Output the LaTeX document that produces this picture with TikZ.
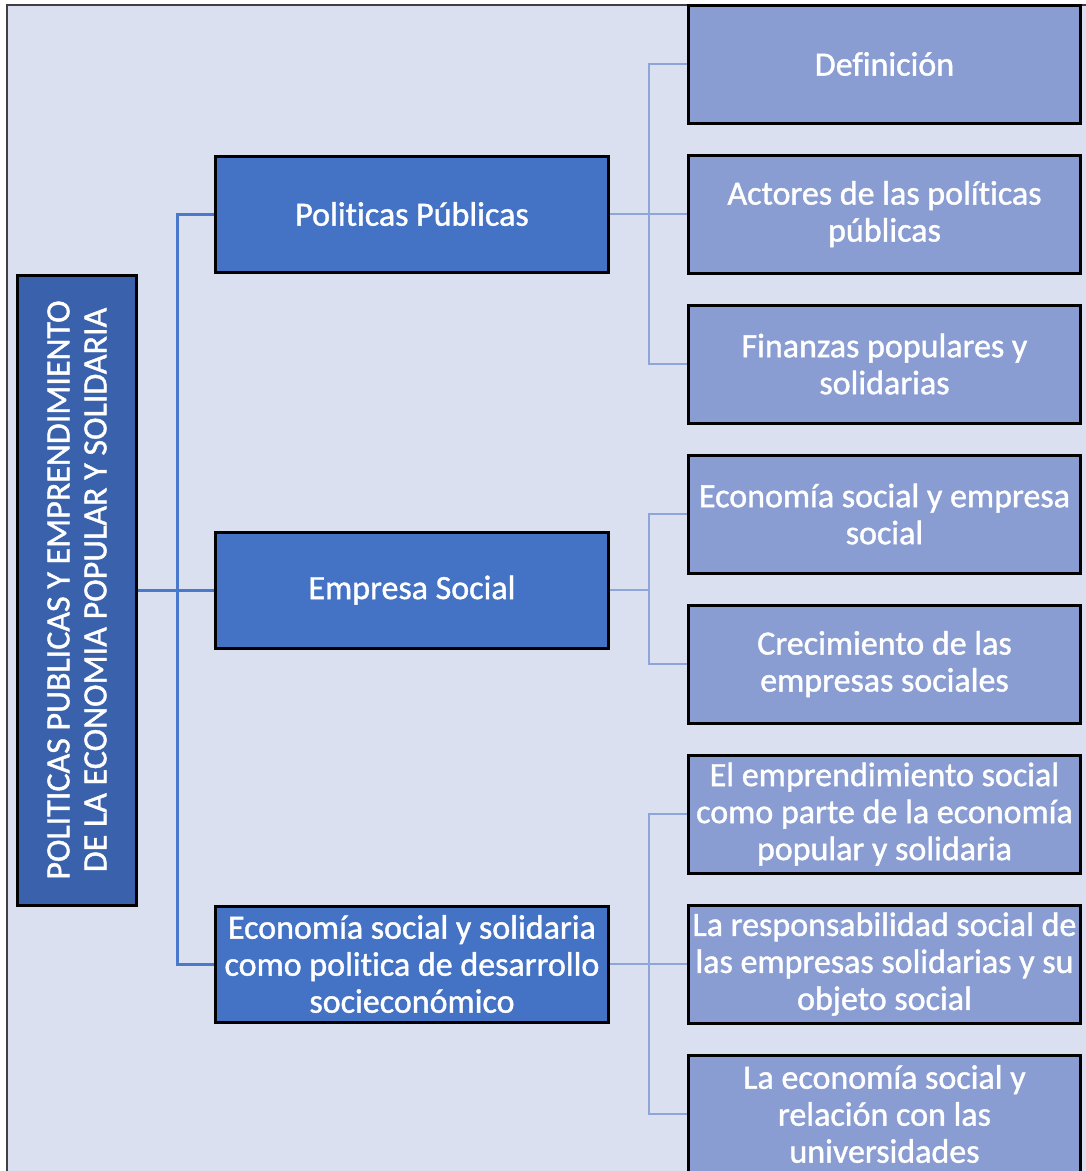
\documentclass[tikz,border=0pt]{standalone}
\usepackage{fontspec}
\setmainfont{Carlito}[Ligatures=NoCommon, FakeBold=1.2]
\definecolor{frame bg}{HTML}{DAE0F0}
\definecolor{theme blue}{HTML}{3A62AC}
\definecolor{topic blue}{HTML}{4472C4}
\definecolor{subtopic blue}{HTML}{8A9DD2}
\definecolor{trunk blue}{HTML}{4A78CB}
\definecolor{branch blue}{HTML}{8EA5DA}
\tikzstyle{frame}=[draw=black!75, line width=2pt, fill=frame bg]
\tikzstyle{box}=[draw=black, line width=3pt, text=white, align=center, inner sep=0,
  font=\fontsize{34}{37}\selectfont]
\tikzstyle{theme}=[box, fill=theme blue, minimum width=630pt, minimum height=119pt]
\tikzstyle{topic}=[box, fill=topic blue, minimum width=393pt, minimum height=116pt]
\tikzstyle{subtopic}=[box, fill=subtopic blue, minimum width=392pt, minimum height=118pt]
\tikzstyle{trunk}=[draw=trunk blue, line width=3pt]
\tikzstyle{branch}=[draw=branch blue, line width=2.5pt]

\begin{document}
\begin{tikzpicture}[x=1pt, y=-1pt]
    \useasboundingbox (0,0) rectangle (1086,1171);
    \clip (0,0) rectangle (1086,1171);
    \fill[white] (0,0) rectangle (1086,1171);
    \draw[frame] (7,5) rectangle (1130,1220);

    % rotated: the south anchor faces right
    \node[theme, rotate=90] (tema) at (77,590)
      {POLITICAS PUBLICAS Y EMPRENDIMIENTO\\DE LA ECONOMIA POPULAR Y SOLIDARIA};

    \node[topic] (politicas) at (412,214) {Politicas Públicas};
    \node[topic] (empresa) at (412,590) {Empresa Social};
    \node[topic] (economia) at (412,964)
      {Economía social y solidaria\\como politica de desarrollo\\socieconómico};

    \node[subtopic] (definicion) at (884.5,64) {Definición};
    \node[subtopic] (actores) at (884.5,214) {Actores de las políticas\\públicas};
    \node[subtopic] (finanzas) at (884.5,364) {Finanzas populares y\\solidarias};
    \node[subtopic] (ecosocial) at (884.5,514) {Economía social y empresa\\social};
    \node[subtopic] (crecimiento) at (884.5,664) {Crecimiento de las\\empresas sociales};
    \node[subtopic] (emprendimiento) at (884.5,814)
      {El emprendimiento social\\como parte de la economía\\popular y solidaria};
    \node[subtopic] (responsabilidad) at (884.5,964)
      {La responsabilidad social de\\las empresas solidarias y su\\objeto social};
    \node[subtopic] (universidades) at (884.5,1114)
      {La economía social y\\relación con las\\universidades};

    \coordinate (trunk) at (177,590);
    \foreach \t in {politicas, empresa, economia}
      \draw[trunk] (tema.south) -- (trunk) |- (\t.west);

    \foreach \p/\c in {politicas/definicion, politicas/actores, politicas/finanzas,
        empresa/ecosocial, empresa/crecimiento,
        economia/emprendimiento, economia/responsabilidad, economia/universidades}
      \draw[branch] (\p.east) -- ++(39,0) |- (\c.west);
\end{tikzpicture}
\end{document}
